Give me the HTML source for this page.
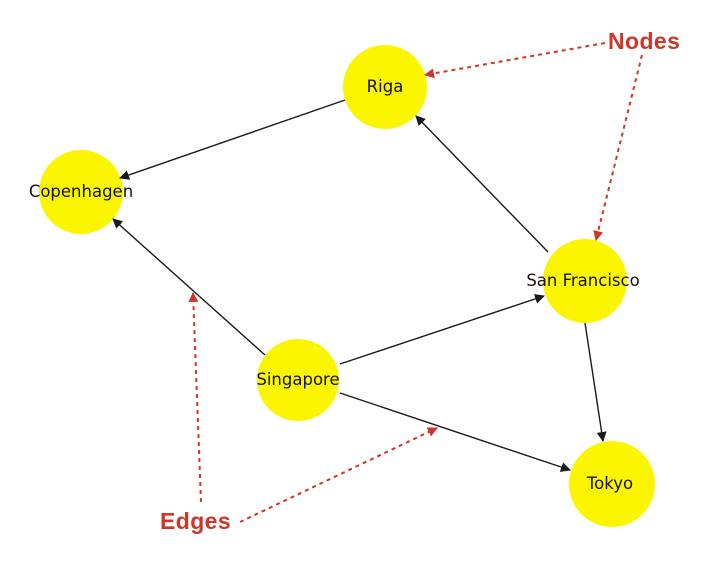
<!DOCTYPE html>
<html><head><style>body{margin:0;background:#fff}svg{display:block}</style></head><body>
<svg width="711" height="571" viewBox="0 0 711 571" xmlns="http://www.w3.org/2000/svg">
<defs>
<marker id="a" markerWidth="10" markerHeight="10" refX="9" refY="5" orient="auto" markerUnits="userSpaceOnUse"><path d="M0,0 L10,5 L0,10 z" fill="#1a1a1a"/></marker>
<marker id="r" markerWidth="10" markerHeight="10" refX="9" refY="5" orient="auto" markerUnits="userSpaceOnUse"><path d="M0,0 L10,5 L0,10 z" fill="#d0352a"/></marker>
</defs>
<g fill="#fcf500">
<circle cx="385" cy="87" r="42"/>
<circle cx="81" cy="192" r="42"/>
<circle cx="585" cy="281" r="42"/>
<circle cx="298" cy="380" r="41"/>
<circle cx="612" cy="484" r="43"/>
</g>
<g stroke="#1a1a1a" stroke-width="1.4" fill="none" marker-end="url(#a)">
<line x1="345" y1="100" x2="120" y2="178"/>
<line x1="265" y1="355" x2="113" y2="219"/>
<line x1="548" y1="252" x2="416" y2="116"/>
<line x1="340" y1="364" x2="544" y2="296"/>
<line x1="340" y1="393" x2="570" y2="470"/>
<line x1="585" y1="323" x2="603" y2="441"/>
</g>
<g stroke="#d0352a" stroke-width="2" stroke-dasharray="4,4" fill="none" marker-end="url(#r)">
<line x1="605" y1="43" x2="425" y2="75"/>
<line x1="642" y1="55" x2="596" y2="240"/>
<line x1="201" y1="502" x2="193" y2="293"/>
<line x1="240" y1="522" x2="437" y2="428"/>
</g>
<g font-family="DejaVu Sans, sans-serif" font-size="16.5" fill="#111" text-anchor="middle">
<text x="385" y="92">Riga</text>
<text x="81" y="197">Copenhagen</text>
<text x="583" y="286">San Francisco</text>
<text x="298" y="385">Singapore</text>
<text x="610" y="489">Tokyo</text>
</g>
<g font-family="Liberation Sans, sans-serif" font-size="23" font-weight="bold" fill="#d0352a" letter-spacing="0.4">
<text x="608" y="49">Nodes</text>
<text x="160" y="529">Edges</text>
</g>
</svg>
</body></html>
